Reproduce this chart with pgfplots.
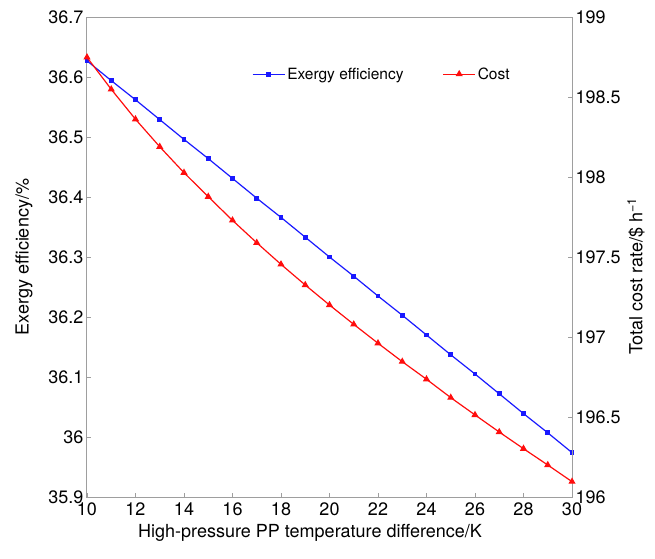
\documentclass[border=0pt]{standalone}
\usepackage{fontspec}
\setmainfont{TeX Gyre Heros}
\usepackage{pgfplots}
\pgfplotsset{compat=1.18}
\usepackage{pgfplotstable}
\pgfplotstableread{
x eff
10 36.627
11 36.594
12 36.562
13 36.529
14 36.496
15 36.464
16 36.431
17 36.398
18 36.366
19 36.333
20 36.300
21 36.268
22 36.235
23 36.203
24 36.170
25 36.137
26 36.105
27 36.072
28 36.039
29 36.007
30 35.974
}\efftable
\pgfplotstableread{
x cost
10 198.748
11 198.548
12 198.361
13 198.189
14 198.027
15 197.877
16 197.729
17 197.589
18 197.454
19 197.325
20 197.200
21 197.079
22 196.961
23 196.846
24 196.736
25 196.621
26 196.513
27 196.406
28 196.302
29 196.200
30 196.096
}\costtable
\begin{document}
\begin{tikzpicture}
\pgfplotsset{
  base/.style={
    scale only axis, width=485pt, height=480pt,
    at={(0,0)}, anchor=south west,
    xmin=10, xmax=30, xtick={10,12,...,30},
    axis line style={draw=black!38, line width=1pt},
    tick style={draw=black!38, line width=0.8pt},
    major tick length=4pt,
    tick align=inside,
    tick label style={font=\fontsize{18}{20}\selectfont},
    x tick label style={yshift=-2pt},
    label style={font=\fontsize{18}{20}\selectfont},
    /pgf/number format/assume math mode=true,
    /pgf/number format/fixed,
    /pgf/number format/precision=1,
  }
}
\begin{axis}[base,
  ymin=35.9, ymax=36.7,
  ytick={35.9,36,36.1,36.2,36.3,36.4,36.5,36.6,36.7},
  xtick pos=left, ytick pos=left,
  xlabel={High-pressure PP temperature difference/K},
  xlabel style={at={(axis description cs:0.46,-0.075)}, anchor=center},
  ylabel={Exergy efficiency/\%},
  ylabel style={at={(axis description cs:-0.13,0.5)}, anchor=center},
]
\addplot[blue!90!white, line width=1.2pt, mark=square*, mark size=1.8pt] table[x=x, y=eff] {\efftable};
\end{axis}
\begin{axis}[base,
  ymin=196, ymax=199,
  ytick={196,196.5,197,197.5,198,198.5,199},
  axis x line=none, axis y line*=right,
  ylabel={Total cost rate/\$ h\textsuperscript{−1}},
  ylabel style={at={(axis description cs:1.132,0.46)}, anchor=center},
  legend columns=2,
  legend style={draw=none, fill=none, inner sep=0pt,
    at={(axis description cs:0.34,0.881)}, anchor=west,
    font=\fontsize{15.5}{18}\selectfont,
    /tikz/every even column/.append style={column sep=37pt}},
  legend image code/.code={\draw[mark repeat=2, mark phase=2, #1] plot coordinates {(0pt,0pt) (16pt,0pt) (32pt,0pt)};},
]
\addlegendimage{blue!90!white, line width=1.2pt, mark=square*, mark size=1.8pt}
\addlegendentry{Exergy efficiency}
\addplot[red!95!white, line width=1.2pt, mark=triangle*, mark size=3pt] table[x=x, y=cost] {\costtable};
\addlegendentry{Cost}
\end{axis}
\pgfresetboundingbox
\path (-87pt,-61pt) rectangle (568pt,497pt);
\end{tikzpicture}
\end{document}
